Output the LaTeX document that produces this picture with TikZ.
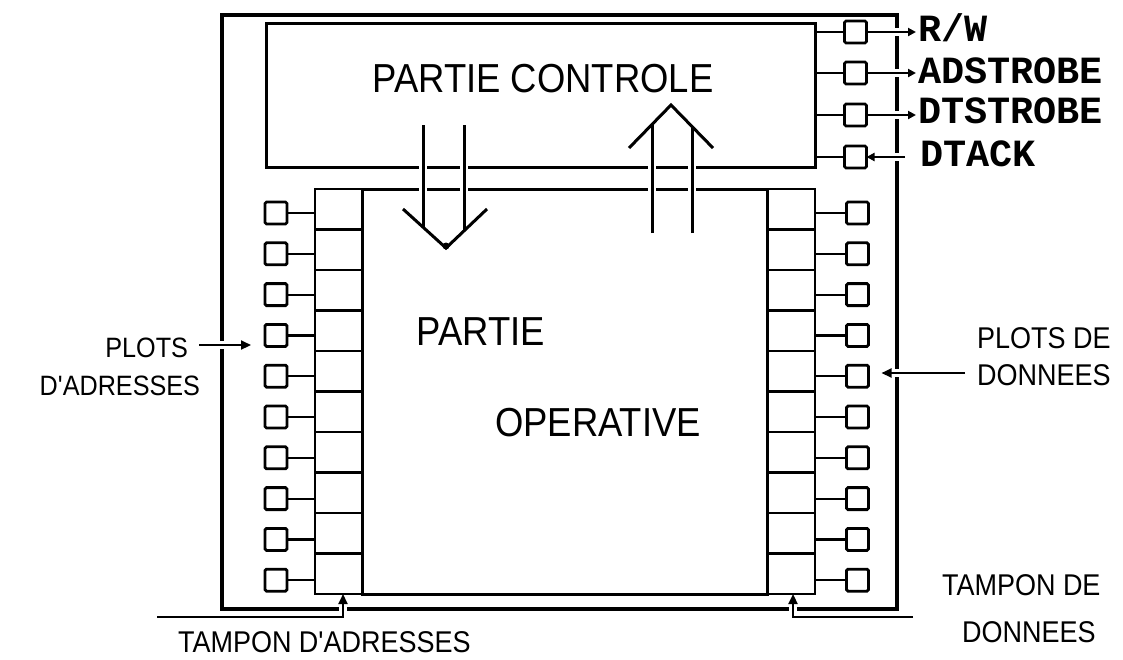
\documentclass[tikz,border=0pt]{standalone}
\usepackage{fontspec}
\setmainfont{Liberation Sans}
\newfontfamily\labfont[FakeStretch=0.9]{Liberation Sans}
\newfontfamily\sigfont{Liberation Mono}
\usetikzlibrary{arrows.meta}
\begin{document}
\begin{tikzpicture}[x=1pt,y=-1pt,
  every node/.style={inner sep=0pt, outer sep=0pt},
  framebox/.style={draw, line width=3.2pt},
  ctrlbox/.style={draw, line width=3pt},
  cell/.style={draw, line width=2.8pt, minimum width=47pt, minimum height=40.5pt},
  pinbox/.style={draw, line width=2.8pt, rounded corners=1.5pt, minimum width=22pt, minimum height=22pt},
  wire/.style={line width=2.2pt},
  halo/.style={preaction={draw=white, line width=8pt, -, shorten <=4pt, shorten >=4pt}},
  bigline/.style={line width=3pt},
  sigtip/.style={-{Triangle[length=8pt,width=8pt]}},
  leadtip/.style={-{Triangle[length=10pt,width=9pt]}},
  biglab/.style={font=\labfont\fontsize{40.5}{48}\selectfont},
  smalllab/.style={font=\labfont\fontsize{30}{36}\selectfont},
  leftlab/.style={font=\labfont\fontsize{28}{34}\selectfont},
  siglab/.style={font=\sigfont\bfseries\fontsize{38.5}{44}\selectfont, anchor=base west}
]
\useasboundingbox (0,0) rectangle (1123,659);

% outer frame
\node[framebox, minimum width=675pt, minimum height=594pt] (frame) at (559.5,312) {};

% control part
\node[ctrlbox, minimum width=549pt, minimum height=144pt] (ctrl) at (540.5,95) {};
\node[biglab, anchor=base] (ctrltxt) at (543,92) {PARTIE CONTROLE};

% operative part
\node[ctrlbox, minimum width=405pt, minimum height=405pt] (op) at (564.5,391.5) {};
\node[biglab, anchor=base] (optxt1) at (481,345) {PARTIE};
\node[biglab, anchor=base] (optxt2) at (598,436) {OPERATIVE};

% buffers and pads
\foreach \i in {1,...,10} {
  \node[cell] (ta\i) at (338.5,{209.25+40.5*(\i-1)}) {};
  \node[cell, minimum width=48pt] (td\i) at (791,{209.25+40.5*(\i-1)}) {};
  \node[pinbox] (pa\i) at (276,{213+40.8*(\i-1)}) {};
  \node[pinbox] (pd\i) at (857.5,{213+40.8*(\i-1)}) {};
  \draw[wire] (pa\i.east) -- (pa\i.east -| ta\i.west);
  \draw[wire] (pd\i.west) -- (pd\i.west -| td\i.east);
}

% control pads
\node[pinbox] (pc1) at (855.5,32) {};
\node[pinbox] (pc2) at (855.5,73) {};
\node[pinbox] (pc3) at (855.5,115) {};
\node[pinbox] (pc4) at (855.5,157) {};
\foreach \i in {1,...,4} {
  \draw[wire] (pc\i.west) -- (pc\i.west -| ctrl.east);
}
\node[siglab] (rw) at (918,41) {R/W};
\node[siglab] (ads) at (918,83) {ADSTROBE};
\node[siglab] (dts) at (918,123) {DTSTROBE};
\node[siglab] (dtack) at (920,166) {DTACK};
\coordinate (o1) at (916,32);
\coordinate (o2) at (916,73);
\coordinate (o3) at (916,115);
\coordinate (dtin) at (905,157);
\draw[wire, sigtip, halo] (pc1.east) -- (o1);
\draw[wire, sigtip, halo] (pc2.east) -- (o2);
\draw[wire, sigtip, halo] (pc3.east) -- (o3);
\draw[wire, sigtip, halo] (dtin) -- (pc4.east);

% big arrows
\draw[bigline, halo] (423,125) -- (423,227);
\draw[bigline, halo] (464,125) -- (464,231);
\draw[bigline, line join=miter] (403,209) -- (446,248) -- (487,209);
\fill (446,246) circle (3.5pt);
\draw[bigline, halo] (652,233) -- (652,125);
\draw[bigline, halo] (692,233) -- (692,127);
\draw[bigline, line join=miter] (629,148) -- (671,105) -- (713,148);

% address pad label
\node[leftlab, anchor=base east] (plotsa) at (188,357) {PLOTS};
\node[leftlab, anchor=base east] (adr) at (200,395) {D'ADRESSES};
\coordinate (pla) at (199,345);
\draw[wire, leadtip, halo, shorten >=14pt] (pla) -- (pla -| pa4.west);

% data pad label
\node[smalllab, anchor=base west] (plotsd) at (977,348) {PLOTS DE};
\node[smalllab, anchor=base west] (don) at (977,385) {DONNEES};
\coordinate (pld) at (965,373);
\draw[wire, leadtip, halo, shorten >=13pt] (pld) -- (pld -| pd5.east);

% buffer labels
\coordinate (tla) at (157,617);
\draw[wire, leadtip, halo] (tla) -| ([xshift=4.5pt]ta10.south);
\node[smalllab, anchor=base west] (tadr) at (178,652) {TAMPON D'ADRESSES};
\coordinate (tlb) at (913,617);
\draw[wire, leadtip, halo] (tlb) -| ([xshift=2pt]td10.south);
\node[smalllab, anchor=base west] (tdon1) at (942,595) {TAMPON DE};
\node[smalllab, anchor=base west] (tdon2) at (962,642) {DONNEES};
\end{tikzpicture}
\end{document}
